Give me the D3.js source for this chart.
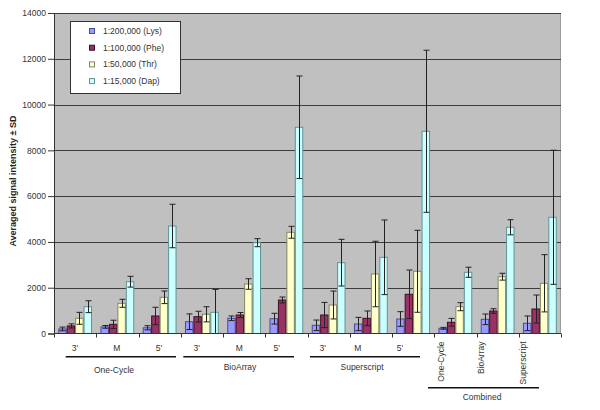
<!DOCTYPE html>
<html><head><meta charset="utf-8">
<script src="https://cdn.jsdelivr.net/npm/d3@7"></script>
<style>body{margin:0;background:#fff}svg{display:block;font-family:"Liberation Sans",Arial,sans-serif}</style>
</head><body><svg id="c" width="600" height="410"></svg>
<script>
const categories = ["3'","M","5'","3'","M","5'","3'","M","5'","One-Cycle","BioArray","Superscript"];
const seriesNames = ["1:200,000 (Lys)","1:100,000 (Phe)","1:50,000 (Thr)","1:15,000 (Dap)"];
const lys    = [200,290,250,515,664,647,358,415,633,227,620,446];
const lysErr = [80,60,90,340,100,235,230,290,320,40,230,320];
const phe    = [330,400,765,734,808,1463,808,664,1712,489,983,1070];
const pheErr = [90,180,380,236,110,130,550,320,1060,170,100,610];
const thr    = [664,1319,1581,839,2162,4421,1245,2599,2717,1171,2481,2193];
const thrErr = [260,175,275,330,230,260,610,1430,1790,175,150,1250];
const dap    = [1171,2263,4696,926,3967,9008,3093,3329,8833,2674,4640,5076];
const dapErr = [260,236,950,1000,175,2240,1020,1630,3540,220,330,2930];
const yTicks = [0,2000,4000,6000,8000,10000,12000,14000];
const groupNames = ["One-Cycle","BioArray","Superscript","Combined"];

const values = [lys, phe, thr, dap];
const errors = [lysErr, pheErr, thrErr, dapErr];
const fills = ["#9999ff","#993366","#ffffcc","#ccffff"];
const strokes = ["#4b4b99","#3f0d26","#858560","#5f9494"];
const FS = 8.5;

const L = 54, R = 561, T = 13, B = 333.5;
const svg = d3.select("#c");
const x = d3.scaleBand().domain(d3.range(categories.length)).range([L, R]).padding(0);
const xs = d3.scaleBand().domain(d3.range(4)).range([0, x.bandwidth()]).paddingInner(0).paddingOuter(0.5);
const y = d3.scaleLinear().domain([0, 14000]).range([B, T]);

svg.append("rect").attr("x", L).attr("y", T).attr("width", R - L).attr("height", B - T).attr("fill", "#c0c0c0");
svg.append("line").attr("x1", R - 0.5).attr("x2", R - 0.5).attr("y1", T).attr("y2", B).attr("stroke", "#9a9a9a");

// gridlines
svg.append("g").selectAll("line").data(yTicks.filter(d => d > 0)).join("line")
  .attr("x1", L).attr("x2", R).attr("y1", d => Math.round(y(d)) + 0.5).attr("y2", d => Math.round(y(d)) + 0.5)
  .attr("stroke", "#3c3c3c").attr("stroke-width", 1);

// y axis
const ya = svg.append("g").attr("transform", `translate(${L},0)`)
  .call(d3.axisLeft(y).tickValues(yTicks).tickSize(6).tickPadding(2).tickFormat(d3.format("d")));
ya.select(".domain").attr("stroke", "#333");
ya.selectAll(".tick line").attr("stroke", "#333");
ya.selectAll("text").attr("font-size", FS).attr("fill", "#333").attr("font-family", "Liberation Sans, Arial");

// bars
const gBars = svg.append("g");
values.forEach((vals, s) => {
  gBars.append("g").selectAll("rect").data(vals).join("rect")
    .attr("x", (d, i) => x(i) + xs(s) + 0.5)
    .attr("y", d => y(d))
    .attr("width", xs.bandwidth() - 1)
    .attr("height", d => y(0) - y(d))
    .attr("fill", fills[s]).attr("stroke", strokes[s]).attr("stroke-width", 1);
});

// error bars
const gErr = svg.append("g").attr("stroke", "#222").attr("stroke-width", 1);
values.forEach((vals, s) => {
  vals.forEach((v, i) => {
    const cx = Math.round(x(i) + xs(s) + xs.bandwidth() / 2) + 0.5;
    const e = errors[s][i];
    const y1 = y(v + e), y2 = y(Math.max(0, v - e));
    gErr.append("line").attr("x1", cx).attr("x2", cx).attr("y1", y1).attr("y2", y2);
    gErr.append("line").attr("x1", cx - 3).attr("x2", cx + 3).attr("y1", y1).attr("y2", y1);
    gErr.append("line").attr("x1", cx - 3).attr("x2", cx + 3).attr("y1", y2).attr("y2", y2);
  });
});

// x axis
svg.append("line").attr("x1", L).attr("x2", R).attr("y1", B).attr("y2", B).attr("stroke", "#333");
svg.append("g").selectAll("line").data(d3.range(categories.length + 1)).join("line")
  .attr("x1", i => Math.round(L + i * x.step()) + 0.5).attr("x2", i => Math.round(L + i * x.step()) + 0.5)
  .attr("y1", B).attr("y2", B + 4).attr("stroke", "#333");

// category labels (layout positions)
const labelX = [75,116.7,159,196.7,239.3,276.7,322.7,357.7,400,441,480.7,523];
const tx = svg.append("g").attr("font-size", FS).attr("fill", "#333");
categories.forEach((c, i) => {
  if (i < 9) {
    tx.append("text").attr("x", labelX[i]).attr("y", 350.5).attr("text-anchor", "middle").text(c);
  } else {
    tx.append("text").attr("transform", `translate(${labelX[i] + 3},341.5) rotate(-90)`)
      .attr("text-anchor", "end").text(c);
  }
});

// group brackets
const brackets = [[65.7,176,356.7,114,373],[183.3,294,356.7,240,370],[310,420,356.7,362,370],[428,539,387.7,482,400]];
brackets.forEach((b, k) => {
  svg.append("line").attr("x1", b[0]).attr("x2", b[1]).attr("y1", b[2]).attr("y2", b[2]).attr("stroke", "#111").attr("stroke-width", 1.6);
  svg.append("text").attr("x", b[3]).attr("y", b[4]).attr("text-anchor", "middle").attr("font-size", FS).attr("fill", "#333").text(groupNames[k]);
});

// y title
svg.append("text").attr("transform", "translate(16,181) rotate(-90)").attr("text-anchor", "middle")
  .attr("font-size", 9).attr("font-weight", "bold").attr("fill", "#222").text("Averaged signal intensity ± SD");

// legend
const lg = svg.append("g");
lg.append("rect").attr("x", 70.5).attr("y", 21.5).attr("width", 110).attr("height", 72).attr("fill", "#fff").attr("stroke", "#333");
seriesNames.forEach((n, s) => {
  const cy = 31 + s * 16.7;
  lg.append("rect").attr("x", 89.5).attr("y", cy - 2.5).attr("width", 5).attr("height", 5).attr("fill", fills[s]).attr("stroke", strokes[s]);
  lg.append("text").attr("x", 103).attr("y", cy + 3).attr("font-size", FS).attr("fill", "#333").text(n);
});
</script></body></html>
